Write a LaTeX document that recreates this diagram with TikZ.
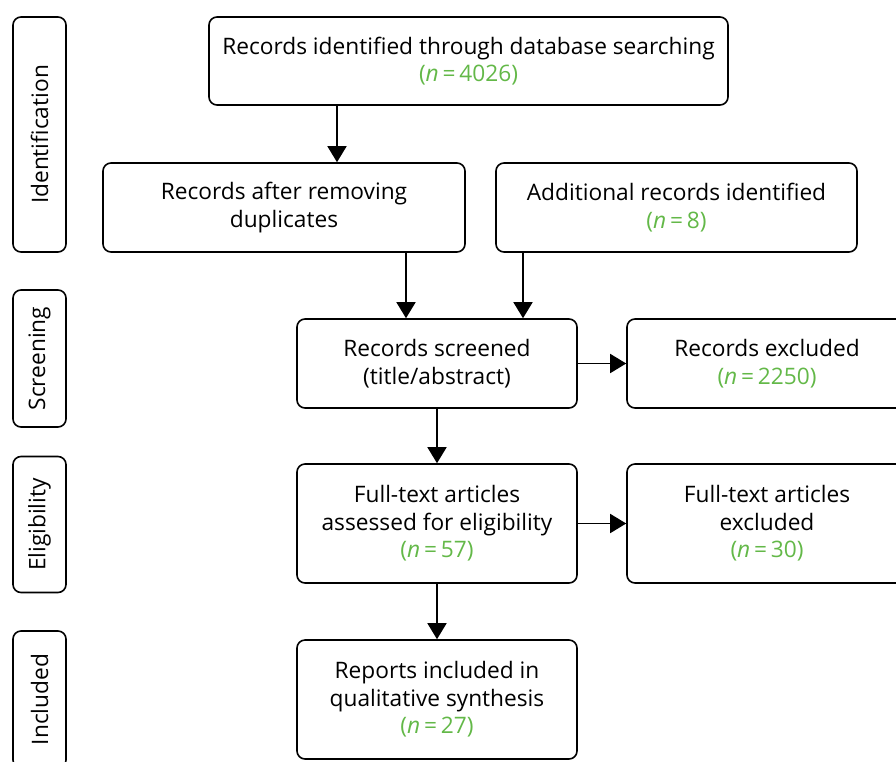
\documentclass[tikz,border=0pt]{standalone}
\usepackage{fontspec}
\setmainfont{Open Sans}
\usetikzlibrary{arrows.meta}
\definecolor{ngreen}{RGB}{99,184,72}
\tikzset{
  box/.style={draw, line width=1.6pt, rounded corners=8pt, align=center, inner sep=0pt,
    font=\fontsize{22.7}{27.5}\selectfont},
  stage/.style={draw, line width=1.6pt, rounded corners=8pt, inner sep=0pt, rotate=90,
    minimum height=53pt, font=\fontsize{22.7}{27.5}\selectfont},
  arr/.style={line width=1.6pt, -{Triangle[width=19pt,length=16pt]}},
}
\newcommand{\nnum}[1]{\textcolor{ngreen}{(\textit{n}\,=\,#1)}}
\begin{document}
\begin{tikzpicture}[x=1pt,y=-1pt]
\useasboundingbox (0,0) rectangle (896,761);
\clip (0,0) rectangle (896,761);
% stage labels
\node[stage, minimum width=235pt] (sid) at (39.5,134.5) {Identification};
\node[stage, minimum width=137pt] (ssc) at (39.5,358.5) {Screening};
\node[stage, minimum width=136pt] (sel) at (39.5,524.5) {Eligibility};
\node[stage, minimum width=137pt] (sin) at (39.5,699.5) {Included};
% boxes
\node[box, minimum width=519pt, minimum height=88pt] (top) at (468.5,61) {Records identified through database searching\\ \nnum{4026}};
\node[box, minimum width=362pt, minimum height=89pt] (dup) at (284,207.5) {Records after removing\\ duplicates};
\node[box, minimum width=361pt, minimum height=89pt] (add) at (676.5,207.5) {Additional records identified\\ \nnum{8}};
\node[box, minimum width=280pt, minimum height=89pt] (scr) at (437,363.5) {Records screened\\ (title/abstract)};
\node[box, minimum width=280pt, minimum height=89pt] (exc) at (767,363.5) {Records excluded\\ \nnum{2250}};
\node[box, minimum width=280pt, minimum height=119pt] (ful) at (437,523.5) {Full-text articles\\ assessed for eligibility\\ \nnum{57}};
\node[box, minimum width=280pt, minimum height=119pt] (fex) at (767,523.5) {Full-text articles\\ excluded\\ \nnum{30}};
\node[box, minimum width=280pt, minimum height=119pt] (rep) at (437,699.5) {Reports included in\\ qualitative synthesis\\ \nnum{27}};
% connectors
\coordinate (xa) at (337,0);
\coordinate (xb) at (406,0);
\coordinate (xc) at (523,0);
\draw[arr] (top.south -| xa) -- (dup.north -| xa);
\draw[arr] (dup.south -| xb) -- (scr.north -| xb);
\draw[arr] (add.south -| xc) -- (scr.north -| xc);
\draw[arr] (scr.east) -- (exc.west);
\draw[arr] (scr.south) -- (ful.north);
\draw[arr] (ful.east) -- (fex.west);
\draw[arr] (ful.south) -- (rep.north);
\end{tikzpicture}
\end{document}
